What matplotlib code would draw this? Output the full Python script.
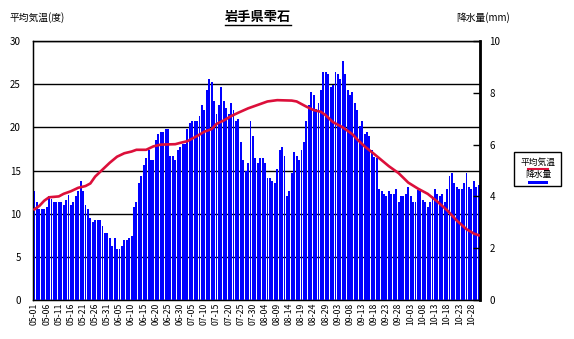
import numpy as np
import pandas as pd
import matplotlib
matplotlib.use("Agg")
import matplotlib.pyplot as plt
from matplotlib.lines import Line2D
from matplotlib.patches import Rectangle

plt.rcParams['font.family'] = ['Noto Sans CJK JP', 'DejaVu Sans']

title = '岩手県雫石'
days = pd.date_range('2023-05-01', '2023-10-31', freq='D')

# daily precipitation (mm), 05-01 .. 10-31
rain = np.array([
    4.20, 3.80, 3.50, 3.50, 3.50, 3.60, 4.00, 3.90, 3.80, 3.80,
    3.80, 3.80, 3.67, 3.87, 4.07, 3.67, 3.80, 4.00, 4.20, 4.60,
    4.20, 3.67, 3.50, 3.17, 3.00, 3.10, 3.10, 3.10, 2.87, 2.60,
    2.60, 2.40, 2.10, 2.40, 1.97, 1.97, 2.10, 2.30, 2.30, 2.40,
    2.47, 3.60, 3.80, 4.50, 4.80, 5.20, 5.50, 5.80, 5.40, 5.40,
    6.17, 6.40, 6.50, 6.50, 6.60, 6.60, 5.57, 5.57, 5.40, 5.80,
    5.90, 6.03, 6.03, 6.60, 6.83, 6.90, 6.90, 6.90, 7.10, 7.53,
    7.33, 8.10, 8.53, 8.40, 7.70, 7.20, 7.53, 8.23, 7.70, 7.40,
    7.20, 7.60, 7.33, 6.90, 7.00, 6.10, 5.40, 5.00, 5.30, 6.90,
    6.33, 5.50, 5.30, 5.50, 5.50, 5.30, 4.70, 4.70, 4.60, 4.50,
    5.07, 5.80, 5.90, 5.57, 4.00, 4.20, 4.90, 5.70, 5.57, 5.40,
    5.80, 6.10, 6.90, 7.53, 8.03, 7.90, 7.37, 7.60, 8.10, 8.80,
    8.80, 8.73, 8.23, 8.30, 8.80, 8.73, 8.53, 9.23, 8.73, 8.10,
    7.90, 8.03, 7.60, 7.33, 6.70, 6.90, 6.40, 6.50, 6.33, 5.80,
    5.53, 5.50, 4.30, 4.20, 4.10, 4.00, 4.20, 4.10, 4.10, 4.30,
    3.80, 4.00, 4.00, 4.10, 4.37, 4.00, 3.80, 3.80, 4.23, 4.20,
    3.87, 3.80, 3.60, 3.80, 4.00, 4.30, 4.10, 4.00, 4.10, 3.80,
    4.30, 4.80, 4.90, 4.50, 4.37, 4.30, 4.30, 4.50, 4.90, 4.37,
    4.30, 4.60, 4.37, 4.43,
])

# mean temperature (deg C), read at these day offsets from 05-01
temp_day = [0, 2, 4, 6, 10, 12, 15, 18, 21, 23, 25, 28, 31, 34, 37, 40,
            42, 46, 49, 52, 58, 60, 63, 67, 70, 73, 75, 78, 81, 84, 88, 92,
            96, 100, 106, 108, 110, 112, 115, 118, 120, 123, 127, 131, 133,
            136, 140, 143, 146, 150, 154, 158, 162, 166, 170, 174, 178, 181,
            183]
temp_val = [10.5, 10.9, 11.5, 11.9, 12.0, 12.3, 12.6, 13.0, 13.2, 13.5,
            14.3, 15.1, 15.9, 16.6, 17.0, 17.2, 17.4, 17.4, 17.8, 18.0,
            18.05, 18.2, 18.4, 19.0, 19.5, 19.8, 20.4, 20.8, 21.3, 21.7,
            22.2, 22.6, 23.0, 23.15, 23.1, 23.0, 22.7, 22.4, 22.0, 21.8,
            21.4, 20.6, 20.0, 19.2, 18.6, 17.8, 16.9, 16.2, 15.5, 14.7,
            13.6, 12.9, 12.3, 11.4, 10.4, 9.2, 8.2, 7.7, 7.5]

temp_ticks = [0, 5, 10, 15, 20, 25, 30]
rain_ticks = [0, 2, 4, 6, 8, 10]

x = np.arange(len(days))
tick_pos = x[::5]
tick_labels = days[::5].strftime('%m-%d')

fig = plt.figure(figsize=(5.74, 3.39), dpi=100)
ax = fig.add_axes([0.058, 0.115, 0.778, 0.764])

# left axis: temperature scale and horizontal grid
ax.set_xlim(-0.5, len(days) - 0.5)
ax.set_ylim(0, 30)
ax.set_yticks(temp_ticks)
ax.yaxis.grid(True, color='black', linewidth=1.0)
ax.set_axisbelow(True)
ax.tick_params(axis='y', length=0, pad=9, labelsize=7)
ax.set_xticks(tick_pos)
ax.set_xticklabels(tick_labels, rotation=90, fontsize=6.3)
ax.tick_params(axis='x', length=0, pad=2)
for s in ax.spines.values():
    s.set_linewidth(1.0)

# right axis: precipitation bars
ax2 = ax.twinx()
ax2.bar(x, rain, width=0.78, color='#0000ff', linewidth=0)
ax2.set_ylim(0, 10)
ax2.set_yticks(rain_ticks)
ax2.tick_params(axis='y', direction='in', length=5, width=1, pad=7, labelsize=7)
ax2.spines['right'].set_linewidth(2.0)
ax2.patch.set_visible(False)

# temperature line on its own layer above the bars
ax3 = ax.twinx()
ax3.set_ylim(0, 30)
ax3.plot(temp_day, temp_val, color='#dc0f3a', linewidth=1.9)
ax3.axis('off')

# header texts
t = fig.text(258 / 574, 1 - 17 / 339, title, ha='center', va='center',
             fontsize=9.5, fontweight='bold')
fig.text(10 / 574, 1 - 18 / 339, '平均気温(度)', ha='left', va='center', fontsize=7)
fig.text(456 / 574, 1 - 18 / 339, '降水量(mm)', ha='left', va='center', fontsize=7)

fig.canvas.draw()
bb = t.get_window_extent().transformed(fig.transFigure.inverted())
fig.add_artist(Line2D([bb.x0, bb.x1], [bb.y0 - 0.004, bb.y0 - 0.004],
                      transform=fig.transFigure, color='black', linewidth=1.0))

# legend box
fig.add_artist(Rectangle((514 / 574, 1 - 186 / 339), 47 / 574, 34 / 339,
                         transform=fig.transFigure, facecolor='white',
                         edgecolor='black', linewidth=1.0))
fig.text(538 / 574, 1 - 162 / 339, '平均気温', ha='center', va='center', fontsize=6.3)
fig.add_artist(Line2D([528 / 574, 548 / 574], [1 - 169 / 339, 1 - 169 / 339],
                      transform=fig.transFigure, color='#dc0f3a', linewidth=1.5))
fig.text(538 / 574, 1 - 175 / 339, '降水量', ha='center', va='center', fontsize=6.3)
fig.add_artist(Rectangle((528 / 574, 1 - 184 / 339), 20 / 574, 3.5 / 339,
                         transform=fig.transFigure, facecolor='#0000ff',
                         edgecolor='none'))

fig.savefig('out.png', dpi=100)
